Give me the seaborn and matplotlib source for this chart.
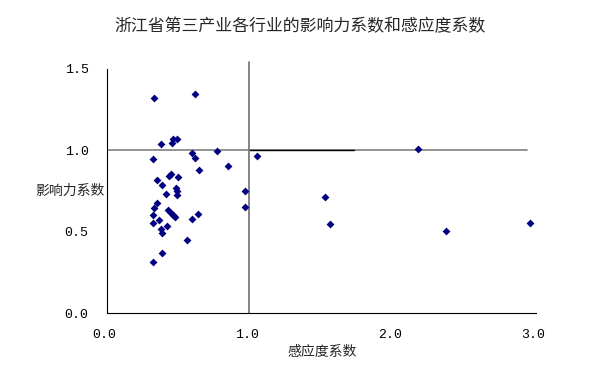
import matplotlib
matplotlib.use("Agg")
import matplotlib.pyplot as plt
import matplotlib.transforms as mtransforms
import seaborn as sns
import pandas as pd

# 感应度系数 (x) and 影响力系数 (y) for each tertiary-industry sector
sensitivity = [0.327, 0.612, 0.378, 0.453, 0.462, 0.490, 0.593, 0.616, 0.770, 0.318,
               1.050, 0.845, 0.644, 0.444, 0.434, 0.497, 0.350, 0.381, 0.481, 0.486,
               0.490, 0.414, 0.962, 0.346, 0.327, 0.427, 0.444, 0.462, 0.476, 0.322,
               0.364, 0.633, 0.591, 0.962, 0.318, 0.416, 0.374, 0.381, 0.560, 0.381,
               0.318, 1.526, 1.561, 2.176, 2.375, 2.960]
influence = [1.319, 1.348, 1.042, 1.045, 1.069, 1.071, 0.985, 0.953, 0.997, 0.950,
             0.963, 0.905, 0.881, 0.854, 0.842, 0.836, 0.817, 0.789, 0.772, 0.749,
             0.725, 0.730, 0.750, 0.676, 0.650, 0.635, 0.618, 0.602, 0.594, 0.601,
             0.573, 0.608, 0.581, 0.653, 0.554, 0.538, 0.516, 0.492, 0.452, 0.369,
             0.315, 0.717, 0.547, 1.008, 0.504, 0.553]

title = "浙江省第三产业各行业的影响力系数和感应度系数"
xlabel = "感应度系数"
ylabel = "影响力系数"
xticks = [0.0, 1.0, 2.0, 3.0]
yticks = [0.0, 0.5, 1.0, 1.5]
tick_labels_x = ["0.0", "1.0", "2.0", "3.0"]
tick_labels_y = ["0.0", "0.5", "1.0", "1.5"]

sns.set_style("white")
cjk = ["Noto Sans CJK SC", "DejaVu Sans"]
plt.rcParams["font.family"] = cjk

df = pd.DataFrame({"x": sensitivity, "y": influence})

fig = plt.figure(figsize=(6.13, 3.79), dpi=100)
ax = fig.add_axes([0.175, 0.173, 0.699, 0.645])

# reference lines
ax.plot([0, 2.94], [1.0, 1.0], color="#808080", lw=1.2, zorder=1)
ax.plot([1.0, 1.73], [1.0, 1.0], color="black", lw=1.0, zorder=1)
ax.plot([0.99, 0.99], [0, 1.54], color="#707070", lw=1.2, zorder=1, clip_on=False)

sns.scatterplot(data=df, x="x", y="y", marker="D", s=16, color="#000080",
                linewidth=0, ax=ax, zorder=3, legend=False)

ax.set_xlim(0, 3.0)
ax.set_ylim(0, 1.5)
ax.set_xticks(xticks)
ax.set_yticks(yticks)
mono = ["Liberation Mono"]
ax.set_xticklabels(tick_labels_x, family=mono, fontsize=9.5)
ax.set_yticklabels(tick_labels_y, family=mono, fontsize=9.5)
ax.tick_params(axis="both", direction="in", length=3, width=0.8, colors="black")
ax.tick_params(axis="x", pad=11.5)
ax.tick_params(axis="y", pad=13.5)
shift = mtransforms.ScaledTranslation(-3 / 100, 0, fig.dpi_scale_trans)
for lab in ax.get_xticklabels():
    lab.set_transform(lab.get_transform() + shift)

for s in ["top", "right"]:
    ax.spines[s].set_visible(False)
for s in ["left", "bottom"]:
    ax.spines[s].set_color("black")
    ax.spines[s].set_linewidth(0.8)

ax.set_xlabel("")
ax.set_ylabel("")
fig.text(0.525, 0.072, xlabel, ha="center", va="center", fontsize=10, family=cjk)
fig.text(0.17, 0.496, ylabel, ha="right", va="center", fontsize=10, family=cjk)
fig.text(0.489, 0.931, title, ha="center", va="center", fontsize=12.2, family=cjk)

fig.savefig("out.png", dpi=100, facecolor="white")
